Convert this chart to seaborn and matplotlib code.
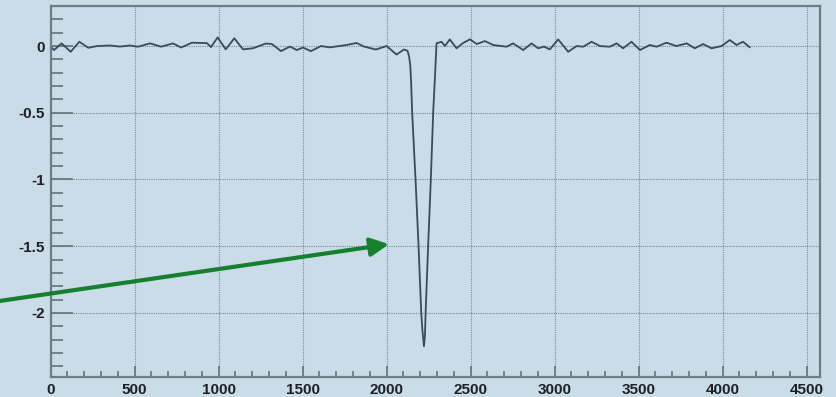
import matplotlib
matplotlib.use("Agg")
import matplotlib.pyplot as plt
from matplotlib.patches import ArrowStyle
from matplotlib.ticker import MultipleLocator
import pandas as pd
import seaborn as sns

# Digitised pulse: sample time (ns) and amplitude (V)
time_ns = [
    0, 20, 65, 119, 170, 224, 276, 353, 412, 472, 520, 591, 657, 728, 776,
    841, 930, 954, 994, 1042, 1093, 1145, 1204, 1281, 1317, 1371, 1424,
    1466, 1502, 1549, 1609, 1662, 1762, 1821, 1865, 1936, 2000, 2059, 2103,
    2124, 2134, 2141, 2146, 2152, 2172, 2190, 2206, 2213, 2222, 2228, 2232,
    2247, 2263, 2277, 2287, 2297, 2327, 2347, 2376, 2416, 2454, 2496, 2536,
    2585, 2634, 2684, 2714, 2753, 2813, 2863, 2902, 2936, 2972, 3021, 3081,
    3131, 3170, 3220, 3270, 3329, 3369, 3408, 3458, 3508, 3567, 3607, 3666,
    3726, 3786, 3835, 3884, 3934, 3994, 4043, 4083, 4122, 4162,
]
amplitude = [
    -0.005, -0.030, 0.020, -0.043, 0.032, -0.013, 0.000, 0.004, -0.004,
    0.004, -0.005, 0.020, -0.005, 0.020, -0.011, 0.025, 0.022, -0.008,
    0.065, -0.025, 0.058, -0.025, -0.017, 0.019, 0.015, -0.038, -0.004,
    -0.030, -0.011, -0.038, 0.000, -0.010, 0.008, 0.023, -0.004, -0.026,
    0.000, -0.064, -0.026, -0.035, -0.080, -0.150, -0.280, -0.500, -1.000,
    -1.500, -2.000, -2.130, -2.250, -2.170, -2.000, -1.500, -1.000, -0.500,
    -0.250, 0.020, 0.032, 0.000, 0.050, -0.017, 0.022, 0.050, 0.015, 0.037,
    0.008, 0.000, -0.005, 0.020, -0.030, 0.020, -0.017, -0.004, -0.025,
    0.050, -0.043, 0.000, -0.005, 0.032, 0.000, -0.005, 0.020, -0.017,
    0.032, -0.030, 0.008, -0.005, 0.025, 0.000, 0.020, -0.017, 0.015,
    -0.017, 0.000, 0.045, 0.008, 0.032, -0.010,
]

x_ticks = [0, 500, 1000, 1500, 2000, 2500, 3000, 3500, 4000, 4500]
y_ticks = [-2, -1.5, -1, -0.5, 0]

# Arrow marking the pulse (tail, head) in data units
arrow_tail = (-302, -1.91)
arrow_head = (2014, -1.485)

bg = "#cbdce9"
sns.set_style("ticks", {"axes.facecolor": bg, "figure.facecolor": bg})
plt.rcParams["font.family"] = ["Liberation Sans", "DejaVu Sans"]

fig = plt.figure(figsize=(8.37, 3.97), dpi=100)
ax = fig.add_axes([50.7 / 837, (397 - 377) / 397, (820 - 50.7) / 837, (377 - 6) / 397])

df = pd.DataFrame({"t": time_ns, "v": amplitude})
sns.lineplot(data=df, x="t", y="v", ax=ax, color="#3b4a58", linewidth=1.3,
             estimator=None, sort=False)

ax.set_xlim(0, 4580)
ax.set_ylim(-2.48, 0.30)
ax.set_xlabel("")
ax.set_ylabel("")

ax.set_xticks(x_ticks)
ax.set_xticklabels([str(v) for v in x_ticks])
ax.set_yticks(y_ticks)
ax.set_yticklabels([f"{v:g}" for v in y_ticks])
ax.xaxis.set_minor_locator(MultipleLocator(100))
ax.yaxis.set_minor_locator(MultipleLocator(0.1))

tick_col = "#66727d"
ax.tick_params(axis="x", which="major", direction="in", length=8, width=1.2,
               color=tick_col, pad=4, labelsize=11, labelcolor="#1c2127")
ax.tick_params(axis="x", which="minor", direction="in", length=4, width=1.2,
               color=tick_col)
ax.tick_params(axis="y", which="major", direction="in", length=16, width=1.2,
               color=tick_col, pad=4, labelsize=11, labelcolor="#1c2127")
ax.tick_params(axis="y", which="minor", direction="in", length=8.5, width=1.2,
               color=tick_col)
for lab in ax.get_xticklabels() + ax.get_yticklabels():
    lab.set_fontweight("bold")

ax.grid(True, which="major", color="#7d8a96", linestyle=(0, (1, 1)), linewidth=0.8)
ax.set_axisbelow(True)

for side in ["left", "right", "top", "bottom"]:
    ax.spines[side].set_visible(True)
    ax.spines[side].set_color("#6f7b86")
    ax.spines[side].set_linewidth(1.6)

ax.annotate("", xy=arrow_head, xytext=arrow_tail, xycoords="data",
            textcoords="data", annotation_clip=False,
            arrowprops=dict(arrowstyle=ArrowStyle("-|>", head_length=1.0, head_width=0.5),
                            mutation_scale=11, color="#17802f", linewidth=3,
                            shrinkA=0, shrinkB=0, clip_on=False))

fig.savefig("out.png", dpi=100, facecolor=bg)
